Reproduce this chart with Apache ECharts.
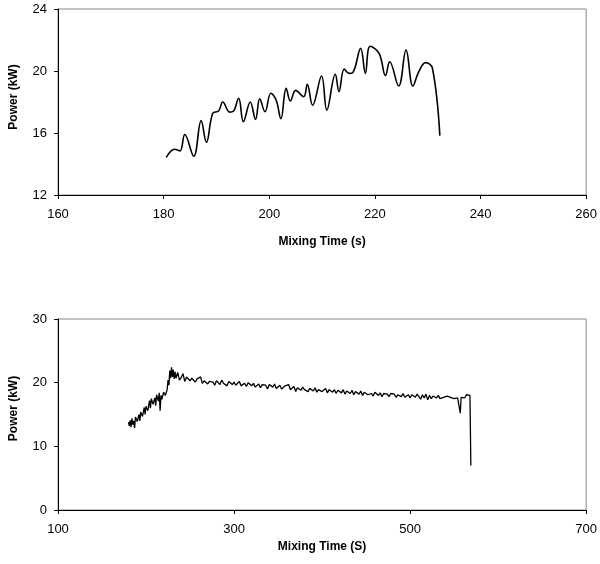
<!DOCTYPE html>
<html>
<head>
<meta charset="utf-8">
<script src="https://cdn.jsdelivr.net/npm/echarts@6/dist/echarts.min.js"></script>
<style>
html,body{margin:0;padding:0;background:#fff;}
#c{width:600px;height:564px;}
</style>
</head>
<body>
<div id="c"></div>
<script>
// Top chart (zoomed section)
var topTime = [180.5,182.1,183.1,184.0,185.7,187.1,188.1,189.3,190.4,191.2,192.5,193.2,194.2,195.1,196.4,197.4,198.2,199.2,200.3,201.3,202.2,203.2,204.0,205.0,206.5,207.2,208.2,209.9,210.9,212.5,213.2,214.2,215.1,215.8,217.3,218.2,219.1,220.8,222.0,222.8,224.5,225.9,227.2,228.3,229.6,230.9,232.3];
var topPower = [14.43,14.95,14.84,15.9,14.5,16.8,15.4,17.27,17.42,18.0,17.35,17.4,18.24,16.73,18.0,16.88,18.2,17.37,18.56,18.13,16.92,18.88,18.06,18.75,18.34,19.14,17.8,19.68,17.48,19.79,18.67,20.13,19.85,19.89,21.46,19.85,21.6,21.14,19.7,20.6,19.03,21.35,19.03,19.95,20.54,20.17,15.83];
var topXTicks = [160,180,200,220,240,260];
var topYTicks = [12,16,20,24];

// Bottom chart (full run)
var bottomData = [
[180,13.8],[181,13.2],[182,14.1],[183,13.0],[184,14.4],[185,13.4],[186,14.0],[187,12.9],[188,14.6],[190,13.9],
[192,15.0],[193,14.0],[194,15.4],[196,14.7],[198,16.1],[199,15.0],[200,16.3],[202,15.6],[204,17.2],[205,16.0],
[206,17.5],[208,16.6],[210,17.6],[211,16.4],[212,18.1],[214,17.1],[215,18.4],[216,15.6],[217,18.0],[218,17.4],
[220,18.5],[222,18.0],[224,18.9],[225,20.4],[226,19.6],[227,21.9],[228,20.7],[229,22.4],[230,20.9],[231,22.0],
[232,20.6],[233,21.7],[234,20.7],[236,21.6],[238,20.4],
[240,20.8],[242,21.4],[244,20.2],[246,20.9],[248,21.1],[250,20.3],[252,20.7],[254,21.0],[256,20.1],[258,20.6],
[260,20.4],[262,20.9],[264,19.9],[266,20.3],[268,20.6],[270,19.8],[272,20.2],[274,20.5],[276,20.1],[278,19.6],
[280,20.3],[282,20.0],[284,19.7],[286,20.4],[288,19.9],[290,20.1],[292,19.5],[294,20.2],[296,19.9],[298,19.7],
[300,20.1],[302,19.6],[304,19.9],[306,20.2],[308,19.5],[310,19.8],[312,19.9],[314,19.4],[316,20.0],[318,19.7],
[320,19.5],[322,19.9],[324,19.3],[326,19.6],[328,19.8],[330,19.2],[332,19.7],[334,19.5],[336,19.6],[338,19.0],
[340,19.7],[342,19.4],[344,19.3],[346,19.8],[348,19.1],[350,19.4],[352,19.6],[354,19.0],[356,19.3],[358,19.5],
[360,19.2],[362,19.7],[364,18.9],[366,19.1],[368,19.4],[370,18.6],[372,19.2],[374,19.0],[376,18.8],[378,19.3],
[380,18.9],[382,19.0],[384,18.6],[386,19.1],[388,18.9],[390,18.7],[392,19.2],[394,18.5],[396,18.9],[398,19.0],
[400,18.6],[402,18.8],[404,19.1],[406,18.4],[408,18.9],[410,18.7],[412,18.5],[414,18.9],[416,18.3],[418,18.8],
[420,18.6],[422,18.4],[424,18.9],[426,18.2],[428,18.7],[430,18.5],[432,18.3],[434,18.8],[436,18.1],[438,18.6],
[440,18.4],[442,18.2],[444,18.7],[446,18.0],[448,18.5],[450,18.6],[452,18.1],[454,18.4],[456,18.3],[458,17.9],
[460,18.5],[462,18.2],[464,18.0],[466,18.4],[468,17.8],[470,18.3],[472,18.1],[474,18.2],[476,17.8],[478,18.3],
[480,18.0],[482,18.2],[484,17.7],[486,18.1],[488,18.0],[490,17.8],[492,18.3],[494,17.7],[496,18.0],[498,18.1],
[500,17.6],[502,18.1],[504,17.9],[506,17.7],[508,18.2],[510,17.8],[512,17.4],[514,18.1],[516,17.6],[518,18.2],
[520,17.3],[522,18.0],[524,17.5],[526,17.9],[528,17.7],[530,17.6],[532,18.0],[534,17.5],[536,17.8],[538,17.7],
[540,17.5],[542,17.9],[544,17.6],[546,17.7],[548,17.8],[550,17.5],[552,17.8],[554,17.6],[556,17.7],[557,15.2],
[558,17.7],[560,17.9],[562,17.6],[564,18.1],[566,17.9],[568,18.0],[569,7.0]
];
var bottomXTicks = [100,300,500,700];
var bottomYTicks = [0,10,20,30];

var FONT = 'Liberation Sans, Arial, sans-serif';

function yAxis(gridIndex, min, max, interval, padShift) {
  return {
    gridIndex: gridIndex, type: 'value', min: min, max: max, interval: interval,
    name: 'Power (kW)', nameLocation: 'middle', nameGap: 38,
    nameTextStyle: {fontFamily: FONT, fontWeight: 'bold', fontSize: 12, color: '#000', padding: [0, 0, 0, padShift]},
    axisLine: {show: true, lineStyle: {color: '#000', width: 1}},
    axisTick: {show: true, length: 4, lineStyle: {color: '#000'}},
    axisLabel: {fontFamily: FONT, fontSize: 13, color: '#000', margin: 11},
    splitLine: {show: false}
  };
}
function xAxis(gridIndex, min, max, interval, name, gap) {
  return {
    gridIndex: gridIndex, type: 'value', min: min, max: max, interval: interval,
    name: name, nameLocation: 'middle', nameGap: gap,
    nameTextStyle: {fontFamily: FONT, fontWeight: 'bold', fontSize: 12, color: '#000'},
    axisLine: {show: true, onZero: false, lineStyle: {color: '#000', width: 1}},
    axisTick: {show: true, length: 4, lineStyle: {color: '#000'}},
    axisLabel: {fontFamily: FONT, fontSize: 13, color: '#000', margin: 13},
    splitLine: {show: false}
  };
}

var chart = echarts.init(document.getElementById('c'), null, {renderer: 'canvas'});
chart.setOption({
  animation: false,
  backgroundColor: '#fff',
  grid: [
    {left: 58, right: 12, top: 9, height: 186, show: true, borderColor: '#888', borderWidth: 1},
    {left: 58, right: 12, top: 319, height: 191, show: true, borderColor: '#888', borderWidth: 1}
  ],
  xAxis: [
    xAxis(0, topXTicks[0], topXTicks[topXTicks.length - 1], 20, 'Mixing Time (s)', 41),
    xAxis(1, bottomXTicks[0], bottomXTicks[bottomXTicks.length - 1], 200, 'Mixing Time (S)', 31)
  ],
  yAxis: [
    yAxis(0, topYTicks[0], topYTicks[topYTicks.length - 1], 4, 10),
    yAxis(1, bottomYTicks[0], bottomYTicks[bottomYTicks.length - 1], 10, 12)
  ],
  series: [
    {
      type: 'line', xAxisIndex: 0, yAxisIndex: 0, smooth: 0.4, showSymbol: false,
      lineStyle: {color: '#000', width: 1.6},
      data: topTime.map(function (t, i) { return [t, topPower[i]]; })
    },
    {
      type: 'line', xAxisIndex: 1, yAxisIndex: 1, smooth: false, showSymbol: false,
      lineStyle: {color: '#000', width: 1.3},
      data: bottomData
    }
  ]
});
</script>
</body>
</html>
